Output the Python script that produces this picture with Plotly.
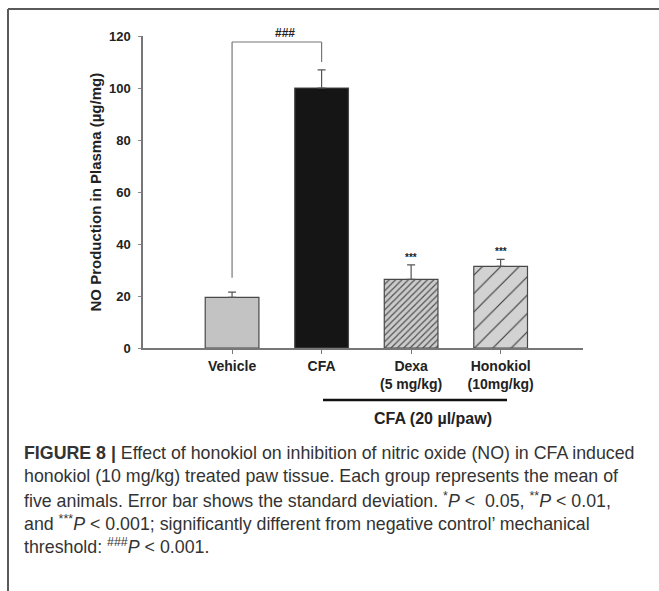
import plotly.graph_objects as go

# Group labels and measured NO levels (mean, upper SD)
groups = ["Vehicle", "CFA", "Dexa<br>(5 mg/kg)", "Honokiol<br>(10mg/kg)"]
means = [19.5, 100.0, 26.4, 31.4]
sds = [2.0, 7.0, 5.6, 2.7]
sig_labels = ["", "", "***", "***"]
y_ticks = [0, 20, 40, 60, 80, 100, 120]

caption_lines = [
    "<b>FIGURE 8 |</b> Effect of honokiol on inhibition of nitric oxide (NO) in CFA induced",
    "honokiol (10 mg/kg) treated paw tissue. Each group represents the mean of",
    "five animals. Error bar shows the standard deviation. <sup>*</sup><i>P</i> <  0.05, <sup>**</sup><i>P</i> < 0.01,",
    "and <sup>***</sup><i>P</i> < 0.001; significantly different from negative control\u2019 mechanical",
    "threshold: <sup>###</sup><i>P</i> < 0.001.",
]

W_PX, H_PX = 659, 591
L, R, T, B = 143, 583, 36, 348


def px(xp):
    return (xp - L) / (R - L)


def py(yp):
    return (B - yp) / (B - T)


# per-bar styling: fill, hatch shape, hatch spacing, hatch line fraction, hatch colour
bar_fill = ["#c3c3c3", "#151515", "#cbcbcb", "#d2d2d2"]
hatch = ["", "", "/", "/"]
hatch_size = [8, 8, 4.5, 13]
hatch_solid = [0.2, 0.2, 0.26, 0.09]
hatch_color = ["#444", "#444", "#505050", "#3c3c3c"]

fig = go.Figure()
for i, g in enumerate(groups):
    fig.add_trace(go.Bar(
        x=[i], y=[means[i]], width=0.6,
        marker=dict(
            color=bar_fill[i],
            line=dict(color="#484848", width=1.2),
            pattern=dict(shape=hatch[i], size=hatch_size[i], solidity=hatch_solid[i],
                         fgcolor=hatch_color[i], fgopacity=1, fillmode="overlay"),
        ),
        error_y=dict(type="data", symmetric=False, array=[sds[i]], arrayminus=[0],
                     color="#555", thickness=1.2, width=4),
        showlegend=False,
    ))

axis_font = dict(family="Liberation Sans, Arial, sans-serif", color="#222")

fig.update_layout(
    width=W_PX, height=H_PX,
    margin=dict(l=L, r=W_PX - R, t=T, b=H_PX - B, pad=0),
    plot_bgcolor="white", paper_bgcolor="white",
    barmode="overlay",
    xaxis=dict(range=[-0.995, 3.92], tickvals=list(range(len(groups))),
               ticktext=["<b>%s</b>" % g.replace("<br>", "</b><br><b>") for g in groups],
               ticks="outside", ticklen=4, tickcolor="#777", tickwidth=1.2,
               showline=True, linecolor="#777", linewidth=1.5,
               showgrid=False, zeroline=False,
               tickfont=dict(size=14, **axis_font)),
    yaxis=dict(range=[0, 120], tickvals=y_ticks,
               ticktext=["<b>%d</b>" % v for v in y_ticks],
               ticks="outside", ticklen=3, tickcolor="#888", tickwidth=1,
               ticklabelstandoff=5,
               showline=True, linecolor="#777", linewidth=1.5,
               showgrid=False, zeroline=False,
               tickfont=dict(size=13, **axis_font)),
)

# significance stars above the treated groups
for i, s in enumerate(sig_labels):
    if s:
        fig.add_annotation(x=i, y=means[i] + sds[i] + 3, text="<b>%s</b>" % s,
                           showarrow=False, font=dict(size=10, **axis_font),
                           yanchor="middle")

# bracket Vehicle vs CFA
top = 117.7
bracket = dict(type="line", xref="x", yref="y", line=dict(color="#777", width=1.2))
fig.add_shape(x0=0, x1=0, y0=27, y1=top, **bracket)
fig.add_shape(x0=0, x1=1, y0=top, y1=top, **bracket)
fig.add_shape(x0=1, x1=1, y0=top, y1=110, **bracket)
fig.add_annotation(xref="paper", yref="paper", x=px(273), y=py(33),
                   text="<b>###</b>", showarrow=False,
                   font=dict(size=12, **axis_font), yanchor="middle")

# y-axis title
fig.add_annotation(xref="paper", yref="paper", x=px(84), y=py(192),
                   text="<b>NO Production in Plasma (\u00b5g/mg)</b>", textangle=-90,
                   showarrow=False, font=dict(size=15, **axis_font))

# CFA group line and label
fig.add_shape(type="line", xref="paper", yref="paper", x0=px(323), x1=px(507),
              y0=py(400), y1=py(400), line=dict(color="#111", width=2.5))
fig.add_annotation(xref="paper", yref="paper", x=px(433), y=py(418),
                   text="<b>CFA (20 \u00b5l/paw)</b>", showarrow=False,
                   font=dict(size=16, **axis_font), yanchor="middle")

# figure frame
frame = dict(type="line", xref="paper", yref="paper", line=dict(color="#5a5a5a", width=2))
fig.add_shape(x0=px(8), x1=px(W_PX + 2), y0=py(9), y1=py(9), **frame)
fig.add_shape(x0=px(8), x1=px(8), y0=py(9), y1=py(H_PX + 2), **frame)

# caption
for k, line in enumerate(caption_lines):
    fig.add_annotation(xref="paper", yref="paper", x=px(22), y=py(453 + 23.3 * k),
                       text=line, showarrow=False, xanchor="left", yanchor="middle",
                       align="left",
                       font=dict(size=17.8, color="#333",
                                 family="Liberation Sans, Arial, sans-serif"))

fig.write_html("out.html")
